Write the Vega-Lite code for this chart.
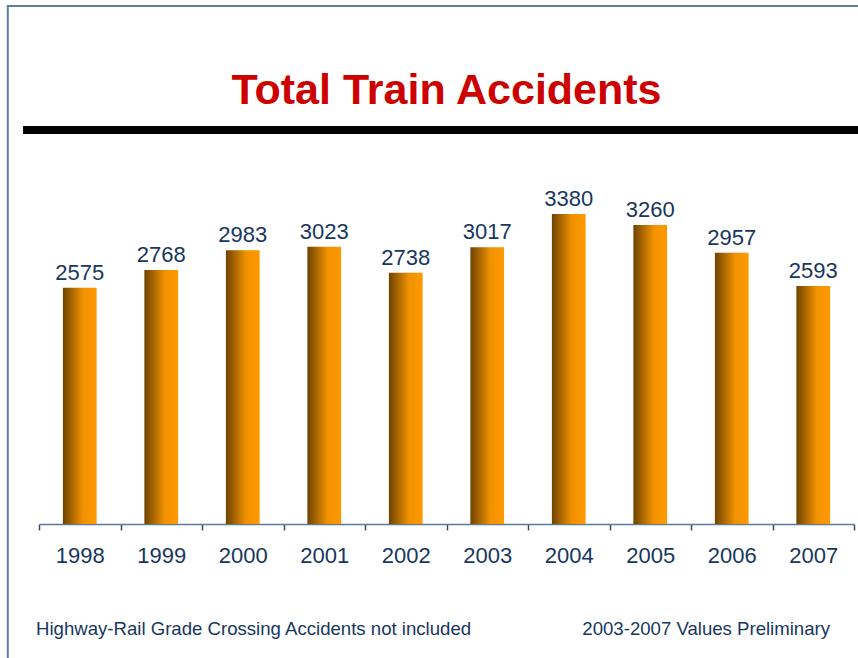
{
  "$schema": "https://vega.github.io/schema/vega-lite/v6.json",
  "autosize": "none",
  "width": 815,
  "height": 367,
  "padding": {"left": 39, "top": 157, "right": 4, "bottom": 134},
  "background": "white",
  "config": {"view": {"stroke": null}},
  "resolve": {"scale": {"x": "independent"}},
  "layer": [
    {
      "data": {"values": [
        {"year": "1998", "accidents": 2575},
        {"year": "1999", "accidents": 2768},
        {"year": "2000", "accidents": 2983},
        {"year": "2001", "accidents": 3023},
        {"year": "2002", "accidents": 2738},
        {"year": "2003", "accidents": 3017},
        {"year": "2004", "accidents": 3380},
        {"year": "2005", "accidents": 3260},
        {"year": "2006", "accidents": 2957},
        {"year": "2007", "accidents": 2593}
      ]},
      "encoding": {
        "x": {"field": "year", "type": "ordinal",
          "scale": {"paddingInner": 0, "paddingOuter": 0},
          "axis": {"title": null, "labelAngle": 0, "tickBand": "extent", "tickSize": 6,
            "domainColor": "#5a7aa0", "tickColor": "#2e4d75", "domainWidth": 1.5, "tickWidth": 1.5,
            "labelFont": "Liberation Sans", "labelFontSize": 22, "labelColor": "#17375e",
            "labelBaseline": "alphabetic", "labelPadding": 32, "grid": false}},
        "y": {"field": "accidents", "type": "quantitative", "scale": {"domain": [0, 4000], "nice": false}, "axis": null}
      },
      "layer": [
        {"mark": {"type": "bar", "width": {"band": 0.414}, "color": {"gradient": "linear", "x1": 0, "x2": 1, "y1": 0, "y2": 0,
          "stops": [{"offset": 0, "color": "#6e4300"}, {"offset": 0.6, "color": "#f29200"}, {"offset": 1, "color": "#ff9900"}]}}},
        {"mark": {"type": "text", "dy": -8, "baseline": "alphabetic", "font": "Liberation Sans", "fontSize": 22, "color": "#17375e"},
          "encoding": {"text": {"field": "accidents", "type": "quantitative"}}}
      ]
    },
    {
      "data": {"values": [{"item": "rule"}]},
      "mark": {"type": "rule", "color": "black", "strokeWidth": 8},
      "encoding": {
        "x": {"datum": -0.0196, "type": "quantitative", "scale": {"domain": [0, 1], "nice": false, "zero": false}, "axis": null},
        "x2": {"datum": 1.01},
        "y": {"datum": 4294, "type": "quantitative", "scale": {"domain": [0, 4000], "nice": false}, "axis": null}
      }
    },
    {
      "data": {"values": [{"item": "top border"}]},
      "mark": {"type": "rule", "color": "#5b7fa8", "strokeWidth": 2},
      "encoding": {
        "x": {"datum": -0.0393, "type": "quantitative", "scale": {"domain": [0, 1], "nice": false, "zero": false}, "axis": null},
        "x2": {"datum": 1.01},
        "y": {"datum": 5646, "type": "quantitative", "scale": {"domain": [0, 4000], "nice": false}, "axis": null}
      }
    },
    {
      "data": {"values": [{"item": "left border"}]},
      "mark": {"type": "rule", "color": "#5b7fa8", "strokeWidth": 2},
      "encoding": {
        "x": {"datum": -0.0383, "type": "quantitative", "scale": {"domain": [0, 1], "nice": false, "zero": false}, "axis": null},
        "y": {"datum": 5657, "type": "quantitative", "scale": {"domain": [0, 4000], "nice": false}, "axis": null},
        "y2": {"datum": -1600}
      }
    },
    {
      "data": {"values": [{"label": "Total Train Accidents"}]},
      "mark": {"type": "text", "font": "Liberation Sans", "fontSize": 43, "fontWeight": "bold", "color": "#cc0000", "align": "center", "baseline": "alphabetic"},
      "encoding": {
        "x": {"datum": 0.5, "type": "quantitative", "scale": {"domain": [0, 1], "nice": false, "zero": false}, "axis": null},
        "y": {"datum": 4583, "type": "quantitative", "scale": {"domain": [0, 4000], "nice": false}, "axis": null},
        "text": {"field": "label"}
      }
    },
    {
      "data": {"values": [{"label": "Highway-Rail Grade Crossing Accidents not included"}]},
      "mark": {"type": "text", "font": "Liberation Sans", "fontSize": 18.6, "color": "#17375e", "align": "left", "baseline": "alphabetic"},
      "encoding": {
        "x": {"datum": -0.0037, "type": "quantitative", "scale": {"domain": [0, 1], "nice": false, "zero": false}, "axis": null},
        "y": {"datum": -1210, "type": "quantitative", "scale": {"domain": [0, 4000], "nice": false}, "axis": null},
        "text": {"field": "label"}
      }
    },
    {
      "data": {"values": [{"label": "2003-2007 Values Preliminary"}]},
      "mark": {"type": "text", "font": "Liberation Sans", "fontSize": 18.6, "color": "#17375e", "align": "right", "baseline": "alphabetic"},
      "encoding": {
        "x": {"datum": 0.9706, "type": "quantitative", "scale": {"domain": [0, 1], "nice": false, "zero": false}, "axis": null},
        "y": {"datum": -1210, "type": "quantitative", "scale": {"domain": [0, 4000], "nice": false}, "axis": null},
        "text": {"field": "label"}
      }
    }
  ]
}
